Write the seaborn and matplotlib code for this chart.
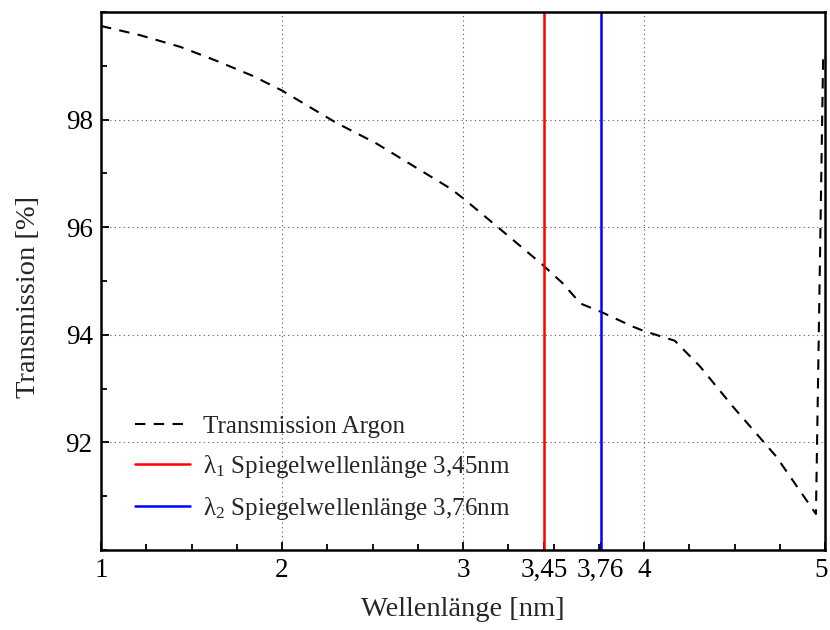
import matplotlib
matplotlib.use("Agg")
import matplotlib.pyplot as plt
from matplotlib.ticker import MultipleLocator, FixedLocator
from matplotlib.transforms import ScaledTranslation
import seaborn as sns
import pandas as pd

# ---- data ----
wavelength = [1.00, 1.215, 1.44, 1.64, 1.84, 2.00, 2.30, 2.52, 2.72, 2.93, 3.00,
              3.20, 3.44, 3.55, 3.65, 3.76, 3.94, 4.00, 4.17, 4.31, 4.49, 4.73,
              4.95, 4.99]
transmission = [99.74, 99.57, 99.35, 99.09, 98.81, 98.54, 97.94, 97.56, 97.15,
                96.72, 96.54, 95.98, 95.30, 94.96, 94.58, 94.43, 94.15, 94.07,
                93.89, 93.41, 92.67, 91.74, 90.67, 99.20]
mirror_wl = [3.45, 3.76]
mirror_colors = ["#ff0000", "#0000ff"]
series_label = "Transmission Argon"
mirror_labels = ["λ$_1$ Spiegelwellenlänge 3,45nm",
                 "λ$_2$ Spiegelwellenlänge 3,76nm"]
xtick_vals = [1, 2, 3, 3.45, 3.76, 4, 5]
xtick_labels = ["1", "2", "3", "3,45", "3,76", "4", "5"]
ytick_vals = [92, 94, 96, 98]
xlabel = "Wellenlänge [nm]"
ylabel = "Transmission [%]"

sns.set_theme(style="white")
plt.rcParams["font.family"] = ["Liberation Serif", "DejaVu Serif"]
plt.rcParams["mathtext.fontset"] = "custom"
plt.rcParams["mathtext.rm"] = "Liberation Serif"
plt.rcParams["mathtext.it"] = "Liberation Serif:italic"
plt.rcParams["mathtext.bf"] = "Liberation Serif:bold"

df = pd.DataFrame({"x": wavelength, "y": transmission})

fig = plt.figure(figsize=(8.3, 6.3), dpi=100)
ax = fig.add_axes([101 / 830, 80 / 630, 724 / 830, 538 / 630])

sns.lineplot(data=df, x="x", y="y", sort=False, ax=ax, color="black",
             lw=1.5, label=series_label, estimator=None)
ax.lines[-1].set_dashes((5, 4))
for wl, c, lab in zip(mirror_wl, mirror_colors, mirror_labels):
    ax.axvline(wl, color=c, lw=1.8, label=lab)

ax.set_xlim(1, 5)
ax.set_ylim(90, 100)
ax.xaxis.set_major_locator(FixedLocator(xtick_vals))
ax.set_xticklabels(xtick_labels)
ax.xaxis.set_minor_locator(MultipleLocator(0.25))
ax.yaxis.set_major_locator(FixedLocator(ytick_vals))
ax.yaxis.set_minor_locator(MultipleLocator(1))

ax.grid(True, which="major", color="#555555", linestyle=(0, (1, 3)), lw=0.8)
for t, v in zip(ax.xaxis.get_major_ticks(), xtick_vals):
    if v in mirror_wl:
        t.gridline.set_visible(False)

ax.tick_params(which="both", direction="in", colors="black", labelsize=19.5,
               top=False, right=False, bottom=True, left=True)
ax.tick_params(which="major", length=6, width=1.3, pad=6)
ax.tick_params(which="minor", length=4, width=1.3)
for s in ax.spines.values():
    s.set_color("black")
    s.set_linewidth(1.8)

# keep the last x tick label ("5") inside the canvas
last = ax.get_xticklabels()[-1]
last.set_transform(last.get_transform() + ScaledTranslation(-4 / 100, 0, fig.dpi_scale_trans))

ax.set_xlabel(xlabel, fontsize=20.5, labelpad=10)
ax.set_ylabel(ylabel, fontsize=20.5)
ax.yaxis.set_label_coords(-0.083, 0.47)

leg = ax.legend(loc="lower left", frameon=False, fontsize=18,
                bbox_to_anchor=(0.016, 0.01), handlelength=2.2,
                labelspacing=0.6, handletextpad=0.5)

fig.savefig("out.png", dpi=100)
